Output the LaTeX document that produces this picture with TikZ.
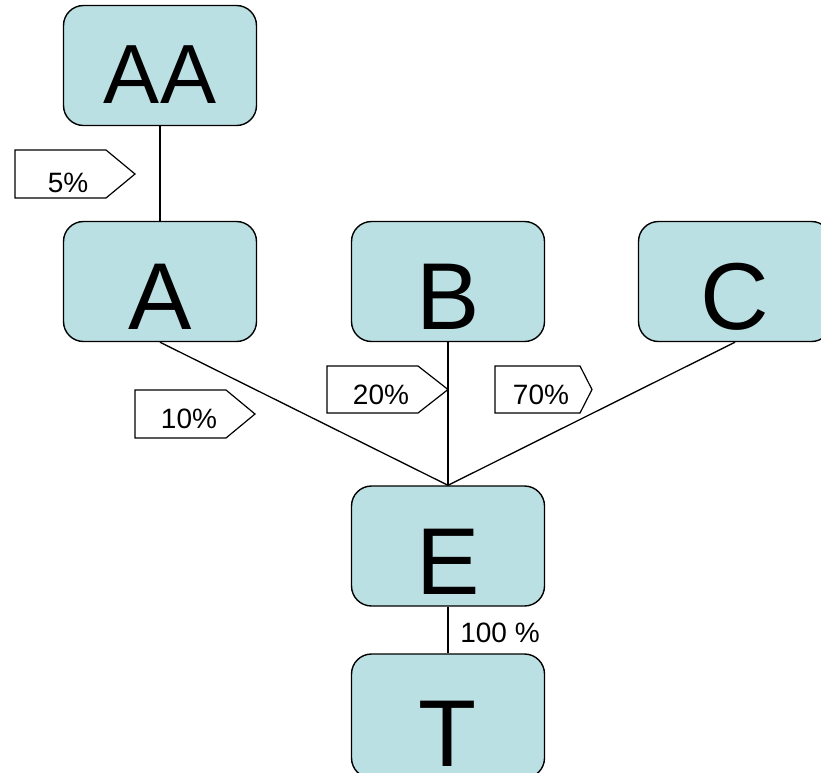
\documentclass[tikz,border=0pt]{standalone}
\usepackage{fontspec}
\setmainfont{Liberation Sans}
\definecolor{boxfill}{RGB}{187,224,227}
\tikzset{
  box/.style={draw=black, line width=1.4pt, fill=boxfill, rounded corners=20pt,
    minimum width=193pt, minimum height=120pt, inner sep=0pt,
    font=\fontsize{95}{95}\selectfont, text height=96pt, text depth=0pt},
  bigbox/.style={box, font=\fontsize{84}{84}\selectfont, text height=75pt},
  link/.style={line width=1.3pt, black},
  tagline/.style={draw=black, line width=1.2pt, fill=white},
  pct/.style={font=\fontsize{28}{28}\selectfont, anchor=base, inner sep=0pt}
}
\begin{document}
\begin{tikzpicture}[x=1pt, y=-1pt]
\useasboundingbox (0,0) rectangle (821,772);
% boxes
\node[bigbox] (AA) at (160,65.5) {AA};
\node[box] (A) at (160,281.5) {A};
\node[box] (B) at (448,281.5) {B};
\node[box] (C) at (735,281.5) {C};
\node[box] (E) at (448,546) {E};
\node[box, minimum height=124pt, text height=100pt] (T) at (448,716) {T};
% connectors
\draw[link] (AA.south) -- (A.north);
\draw[link] (A.south) -- (E.north);
\draw[link] (B.south) -- (E.north);
\draw[link] (C.south) -- (E.north);
\draw[link] (E.south) -- (T.north);
% tags
\draw[tagline] (15,150) -- (106,150) -- (135,174) -- (106,198) -- (15,198) -- cycle;
\node[pct] (p5) at (68,192) {5\%};
\draw[tagline] (135,390) -- (226,390) -- (255,414) -- (226,438) -- (135,438) -- cycle;
\node[pct] (p10) at (189,428) {10\%};
\draw[tagline] (327,366) -- (418,366) -- (448,389.5) -- (418,413) -- (327,413) -- cycle;
\node[pct] (p20) at (381,404) {20\%};
\draw[tagline] (495,366) -- (580,366) -- (592,389.5) -- (580,413) -- (495,413) -- cycle;
\node[pct] (p70) at (541,404) {70\%};
\node[pct] (p100) at (500,642) {100 \%};
\end{tikzpicture}
\end{document}
